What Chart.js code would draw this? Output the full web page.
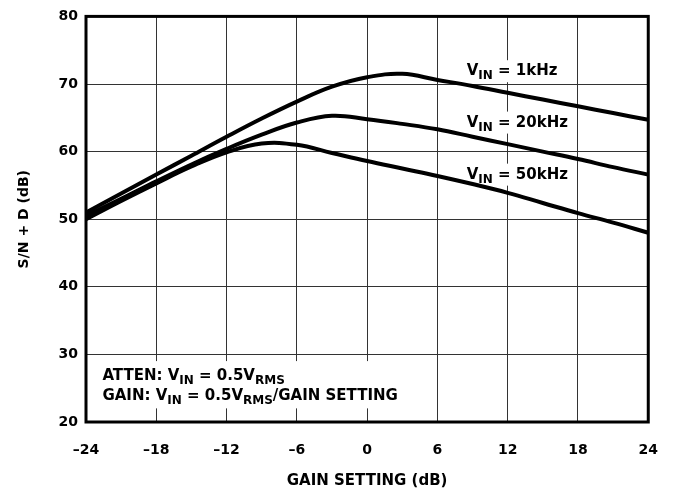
<!DOCTYPE html>
<html>
<head>
<meta charset="utf-8">
<script src="https://cdn.jsdelivr.net/npm/chart.js@4.4.1/dist/chart.umd.min.js"></script>
<style>
  html, body { margin: 0; padding: 0; background: #fff; }
  #wrap { width: 678px; height: 491px; }
</style>
</head>
<body>
<div id="wrap"><canvas id="myChart" width="678" height="491"></canvas></div>
<script>
(function(){
    "use strict";

    // gain setting (dB)
    var gains = [-24, -21, -18, -15, -12, -9, -6, -3, 0, 3, 6, 9, 12, 15, 18, 21, 24];
    // S/N + D (dB) per input frequency
    var snd1k  = [51.0, 53.8, 56.6, 59.4, 62.2, 64.9, 67.4, 69.6, 71.0, 71.5, 70.6, 69.7, 68.7, 67.7, 66.7, 65.7, 64.7];
    var snd20k = [50.5, 53.0, 55.6, 58.1, 60.4, 62.5, 64.3, 65.3, 64.8, 64.1, 63.3, 62.2, 61.1, 60.0, 58.9, 57.7, 56.6];
    var snd50k = [50.0, 52.7, 55.3, 57.8, 59.9, 61.2, 61.0, 59.8, 58.6, 57.5, 56.4, 55.2, 53.9, 52.4, 50.9, 49.5, 48.0];

    var xTicks = [-24, -18, -12, -6, 0, 6, 12, 18, 24];
    var xTickLabels = ['\u201324', '\u201318', '\u201312', '\u20136', '0', '6', '12', '18', '24'];
    var yTickLabels = ['20', '30', '40', '50', '60', '70', '80'];

    var curveNames = ['1kHz', '20kHz', '50kHz'];
    var FONT = '"DejaVu Sans", sans-serif';

    function points(vals){
        return gains.map(function(g, i){ return {x: g, y: vals[i]}; });
    }

    function series(vals){
        return {
            data: points(vals),
            borderColor: '#000',
            borderWidth: 4,
            pointRadius: 0,
            tension: 0.4,
            fill: false
        };
    }

    // text with subscript runs: parts = [[text, isSub], ...]
    function setFont(ctx, sub){
        ctx.font = sub ? 'bold 12px ' + FONT : 'bold 15px ' + FONT;
    }
    function measureParts(ctx, parts){
        var w = 0;
        parts.forEach(function(p){
            setFont(ctx, p[1]);
            w += ctx.measureText(p[0]).width;
        });
        return w;
    }
    function drawParts(ctx, x, y, parts){
        ctx.textBaseline = 'alphabetic';
        ctx.textAlign = 'left';
        ctx.fillStyle = '#000';
        parts.forEach(function(p){
            setFont(ctx, p[1]);
            ctx.fillText(p[0], x, p[1] ? y + 4 : y);
            x += ctx.measureText(p[0]).width;
        });
    }

    function curveLabel(name){
        return [['V', false], ['IN', true], [' = ' + name, false]];
    }
    // label anchors in data units (gain, S/N+D)
    var labelGain = 8.5;
    var labelLevel = [71.3, 63.7, 56.0];
    var noteGain = -22.6;
    var noteLevel = [26.2, 23.2];
    var noteLines = [
        [['ATTEN: V', false], ['IN', true], [' = 0.5V', false], ['RMS', true]],
        [['GAIN: V', false], ['IN', true], [' = 0.5V', false], ['RMS', true], ['/GAIN SETTING', false]]
    ];

    var labels = {
        id: 'labels',
        beforeDatasetsDraw: function(chart){
            var ctx = chart.ctx, xs = chart.scales.x, ys = chart.scales.y;
            ctx.save();
            ctx.fillStyle = '#fff';
            curveNames.forEach(function(n, i){
                var x = xs.getPixelForValue(labelGain), y = ys.getPixelForValue(labelLevel[i]);
                ctx.fillRect(x - 3, y - 15, measureParts(ctx, curveLabel(n)) + 6, 22);
            });
            var nx = xs.getPixelForValue(noteGain);
            var top = ys.getPixelForValue(noteLevel[0]) - 19;
            var bot = ys.getPixelForValue(noteLevel[1]) + 8;
            var w = Math.max(measureParts(ctx, noteLines[0]), measureParts(ctx, noteLines[1]));
            ctx.fillStyle = '#fff';
            ctx.fillRect(nx - 3, top, w + 6, bot - top);
            ctx.restore();
        },
        afterDraw: function(chart){
            var ctx = chart.ctx, xs = chart.scales.x, ys = chart.scales.y, a = chart.chartArea;
            ctx.save();
            curveNames.forEach(function(n, i){
                drawParts(ctx, xs.getPixelForValue(labelGain), ys.getPixelForValue(labelLevel[i]), curveLabel(n));
            });
            noteLines.forEach(function(l, i){
                drawParts(ctx, xs.getPixelForValue(noteGain), ys.getPixelForValue(noteLevel[i]), l);
            });
            ctx.strokeStyle = '#000';
            ctx.lineWidth = 3;
            ctx.strokeRect(a.left, a.top, a.right - a.left, a.bottom - a.top);
            ctx.restore();
        }
    };

    var ctx = document.getElementById('myChart').getContext('2d');
    var myChart = new Chart(ctx, {
        type: 'line',
        data: {
            datasets: [series(snd1k), series(snd20k), series(snd50k)]
        },
        options: {
            responsive: false,
            animation: false,
            devicePixelRatio: 1,
            layout: { padding: { left: 0, right: 23, top: 14, bottom: 0 } },
            plugins: { legend: { display: false }, tooltip: { enabled: false } },
            scales: {
                x: {
                    type: 'linear',
                    min: -24,
                    max: 24,
                    afterBuildTicks: function(s){ s.ticks = xTicks.map(function(v){ return {value: v}; }); },
                    afterFit: function(s){ s.height = 69; },
                    ticks: {
                        padding: 20,
                        color: '#000',
                        font: { family: FONT, size: 14, weight: 'bold' },
                        callback: function(v){ return xTickLabels[xTicks.indexOf(v)]; }
                    },
                    grid: { color: '#333', lineWidth: 1, drawTicks: false },
                    border: { display: false },
                    title: {
                        display: true,
                        text: 'GAIN SETTING (dB)',
                        color: '#000',
                        font: { family: FONT, size: 15, weight: 'bold' },
                        padding: { top: 0, bottom: 1 }
                    }
                },
                y: {
                    min: 20,
                    max: 80,
                    afterFit: function(s){ s.width = 86; },
                    ticks: {
                        stepSize: 10,
                        padding: 8,
                        color: '#000',
                        font: { family: FONT, size: 14, weight: 'bold' },
                        callback: function(v){ return yTickLabels[(v - 20) / 10]; }
                    },
                    grid: { color: '#333', lineWidth: 1, drawTicks: false },
                    border: { display: false },
                    title: {
                        display: true,
                        text: 'S/N + D (dB)',
                        color: '#000',
                        font: { family: FONT, size: 14, weight: 'bold' },
                        padding: { top: 16, bottom: 0 }
                    }
                }
            }
        },
        plugins: [labels]
    });
})();
</script>
</body>
</html>
